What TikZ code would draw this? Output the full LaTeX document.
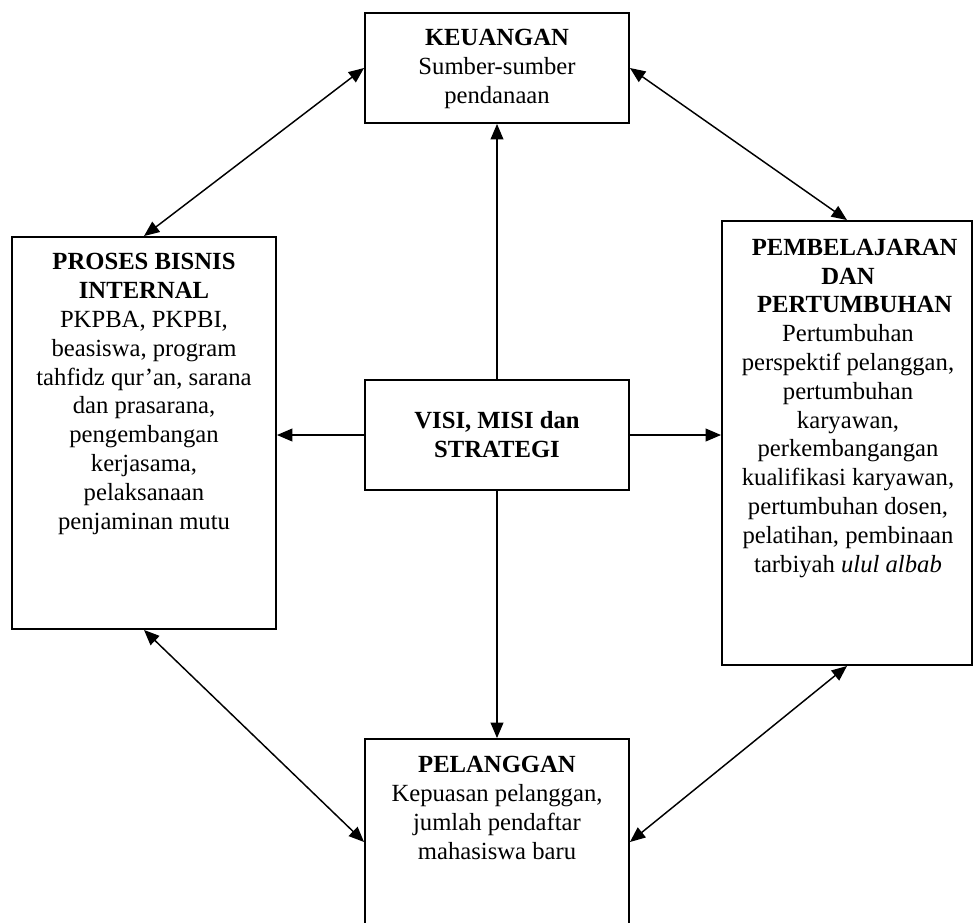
\documentclass[tikz,border=0pt]{standalone}
\usepackage{fontspec}
\setmainfont{Liberation Serif}
\usetikzlibrary{arrows.meta}
\tikzset{
  box/.style={draw, line width=1.4pt, rectangle, inner sep=0pt},
  label/.style={align=center, inner sep=0pt, anchor=base,
    font=\fontsize{18.5pt}{21.6pt}\selectfont},
  tip/.style={Triangle[length=11.5pt,width=9.5pt]},
  link/.style={line width=1.1pt, -{Triangle[length=11.5pt,width=9.5pt]}},
  both/.style={line width=1.1pt, {Triangle[length=11.5pt,width=9.5pt]}-{Triangle[length=11.5pt,width=9.5pt]}}
}
\begin{document}
\begin{tikzpicture}[x=0.75pt, y=-0.75pt]
\useasboundingbox (0,0) rectangle (974,922);
\clip (0,0) rectangle (974,922);

% boxes
\node[box, minimum width=198pt, minimum height=82.5pt] (keu) at (497,68) {};
\node[box, minimum width=198pt, minimum height=294pt] (pbi) at (144,433) {};
\node[box, minimum width=187.5pt, minimum height=333pt] (pmb) at (847,443) {};
\node[box, minimum width=198pt, minimum height=82.5pt] (visi) at (497,435) {};
\node[box, minimum width=198pt, minimum height=154.5pt] (pel) at (497,842) {};

% box texts (each placed by the baseline of its last line)
\node[label] (tkeu) at (497,103) {\textbf{KEUANGAN}\\Sumber-sumber\\pendanaan};
\node[label] (tpbi) at (144,529) {\textbf{PROSES BISNIS}\\\textbf{INTERNAL}\\PKPBA, PKPBI,\\beasiswa, program\\tahfidz qur’an, sarana\\dan prasarana,\\pengembangan\\kerjasama,\\pelaksanaan\\penjaminan mutu};
\node[label] (tpmb) at (848,572) {\hspace*{10pt}\textbf{PEMBELAJARAN}\\\textbf{DAN}\\\hspace*{10pt}\textbf{PERTUMBUHAN}\\Pertumbuhan\\perspektif pelanggan,\\pertumbuhan\\karyawan,\\perkembangangan\\kualifikasi karyawan,\\pertumbuhan dosen,\\pelatihan, pembinaan\\tarbiyah \textit{ulul albab}};
\node[label] (tvisi) at (497,457) {\textbf{VISI, MISI dan}\\\textbf{STRATEGI}};
\node[label] (tpel) at (497,859) {\textbf{PELANGGAN}\\Kepuasan pelanggan,\\jumlah pendaftar\\mahasiswa baru};

% connectors from the centre
\draw[link] (visi.north) -- (keu.south);
\draw[link] (visi.south) -- (pel.north);
\draw[link] (visi.west) -- (pbi.east |- visi.west);
\draw[link] (visi.east) -- (pmb.west |- visi.east);

% connectors around the ring
\draw[both] (keu.west) -- (pbi.north);
\draw[both] (keu.east) -- (pmb.north);
\draw[both] (pbi.south) -- (pel.west);
\draw[both] (pmb.south) -- (pel.east);
\end{tikzpicture}
\end{document}
